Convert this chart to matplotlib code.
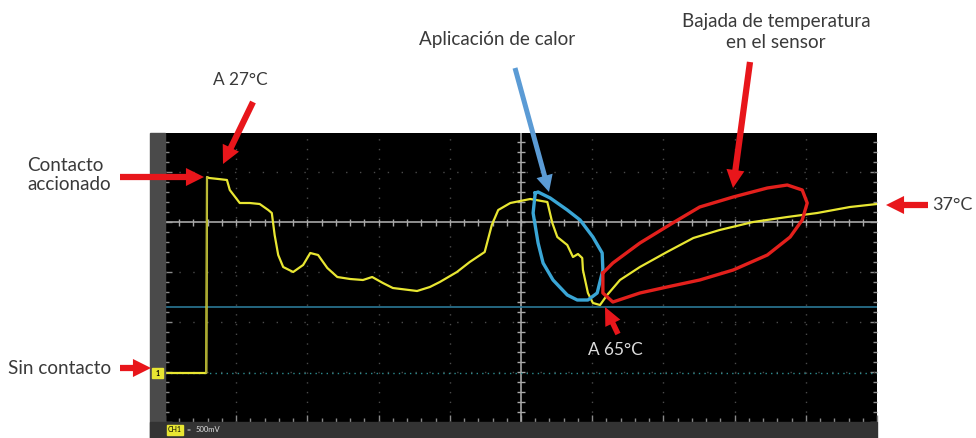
import numpy as np
import matplotlib
matplotlib.use("Agg")
import matplotlib.pyplot as plt
from matplotlib.patches import Rectangle

plt.rcParams['font.family'] = ['Lato', 'DejaVu Sans']

# CH1 trace, x in horizontal divisions (0-10), y in vertical divisions (0 = centre)
trace_t = [0.00, 0.58, 0.59, 0.62, 0.75, 0.87, 0.91, 1.05, 1.19, 1.33,
           1.45, 1.50, 1.54, 1.59, 1.66, 1.80, 1.94, 2.04, 2.15, 2.28,
           2.42, 2.60, 2.78, 2.91, 3.06, 3.20, 3.54, 3.72, 3.86, 4.10,
           4.28, 4.49, 4.59, 4.68, 4.85, 5.13, 5.37, 5.44, 5.51, 5.65,
           5.73, 5.80, 5.86, 5.87, 5.94, 6.01, 6.11, 6.21, 6.39, 6.67,
           7.05, 7.42, 7.79, 8.26, 8.74, 9.16, 9.62, 10.00]
trace_v = [-3.02, -3.02, 0.90, 0.88, 0.86, 0.84, 0.64, 0.38, 0.38, 0.36,
           0.24, 0.18, -0.26, -0.66, -0.90, -1.00, -0.86, -0.62, -0.66, -0.92,
           -1.10, -1.14, -1.16, -1.10, -1.22, -1.32, -1.38, -1.30, -1.20, -1.00,
           -0.80, -0.60, -0.06, 0.24, 0.38, 0.46, 0.40, -0.02, -0.30, -0.46,
           -0.70, -0.64, -0.72, -0.96, -1.42, -1.62, -1.66, -1.46, -1.16, -0.90,
           -0.60, -0.32, -0.16, 0.00, 0.10, 0.18, 0.30, 0.36]

ground_level = -3.02
trigger_level = -1.70

# hand drawn loops (divisions)
blue_loop_t = [5.20, 5.24, 5.41, 5.65, 5.83, 6.01, 6.14, 6.15, 6.07, 5.94,
               5.79, 5.65, 5.45, 5.31, 5.24, 5.17, 5.20]
blue_loop_v = [0.58, 0.60, 0.48, 0.24, 0.04, -0.30, -0.62, -0.96, -1.42, -1.56,
               -1.56, -1.46, -1.16, -0.82, -0.42, 0.18, 0.58]
red_loop_t = [6.15, 6.29, 6.67, 7.13, 7.51, 7.98, 8.46, 8.74, 8.95, 9.02,
              8.95, 8.78, 8.46, 7.98, 7.51, 7.05, 6.67, 6.29, 6.15, 6.15]
red_loop_v = [-1.02, -0.82, -0.42, -0.02, 0.30, 0.50, 0.68, 0.74, 0.64, 0.38,
              0.04, -0.30, -0.66, -0.96, -1.16, -1.30, -1.42, -1.60, -1.42, -1.02]

W, H = 976, 438
fig = plt.figure(figsize=(W / 100, H / 100), dpi=100)
fig.patch.set_facecolor('white')

# scope screen
ax = fig.add_axes([165 / W, 16 / H, 712 / W, 289 / H], zorder=1)
ax.set_facecolor('black')
ax.set_xlim(0, 10)
ax.set_ylim(-4, 1.78)
for s in ax.spines.values():
    s.set_visible(False)
ax.set_xticks(np.arange(0, 11, 1))
ax.set_yticks(np.arange(-4, 2, 1))
ax.set_xticks(np.arange(0, 10.01, 0.2), minor=True)
ax.set_yticks(np.arange(-4, 1.8, 0.2), minor=True)
ax.tick_params(which='both', direction='in', left=True, right=True, bottom=True,
               top=False, labelleft=False, labelbottom=False, color='#8a8a8a',
               width=1)
ax.tick_params(which='major', length=5)
ax.tick_params(which='minor', length=3)

# dotted grid
for gx in range(1, 10):
    if gx != 5:
        ax.axvline(gx, color='#4a4a4a', lw=1, ls=(0, (1, 6)))
for gy in range(-3, 2):
    if gy != 0:
        ax.axhline(gy, color='#4a4a4a', lw=1, ls=(0, (1, 9)))
# centre cross
ax.axvline(5, color='#a8a8a8', lw=1.2)
ax.axhline(0, color='#a8a8a8', lw=1.2)
ax.vlines(np.arange(0.2, 10, 0.2), -0.07, 0.07, color='#a8a8a8', lw=1)
ax.hlines(np.arange(-3.8, 1.8, 0.2), 4.95, 5.05, color='#a8a8a8', lw=1)

ax.axhline(trigger_level, color='#2b7896', lw=1.2)
ax.axhline(ground_level, color='#2c8c90', lw=1, ls=(0, (1, 3)))

ax.plot(trace_t, trace_v, color='#e8e632', lw=1.6, solid_joinstyle='round')
ax.plot(trace_t[1:3], trace_v[1:3], color='#a8a838', lw=1.0)

ax.plot(blue_loop_t, blue_loop_v, color='#3aa6d6', lw=2.4, clip_on=False)
ax.plot(red_loop_t, red_loop_v, color='#e3201c', lw=2.4, clip_on=False)

# overlay in pixel coordinates for frame pieces, arrows and labels
ov = fig.add_axes([0, 0, 1, 1], zorder=3)
ov.set_xlim(0, W)
ov.set_ylim(H, 0)
ov.axis('off')

ov.add_patch(Rectangle((150, 133), 15, 305, color='#4a4a4a'))
ov.add_patch(Rectangle((150, 422), 727, 16, color='#333333'))
ov.add_patch(Rectangle((152, 368), 11, 10, color='#e8e632'))
ov.text(157.5, 373, '1', fontsize=5, color='black', ha='center', va='center',
        fontweight='bold')
ov.add_patch(Rectangle((167, 425), 16, 10, color='#e8e632'))
ov.text(175, 430, 'CH1', fontsize=5, color='black', ha='center', va='center')
ov.text(186, 430, '=', fontsize=5, color='#cccccc', ha='left', va='center')
ov.text(196, 430, '500mV', fontsize=5.5, color='#e0e0e0', ha='left', va='center')

red = '#e8161b'
blue = '#5b9bd5'


def arrow(tail, tip, color, hw=1.3, hl=1.3, tw=0.45):
    style = 'simple,head_width=%s,head_length=%s,tail_width=%s' % (hw, hl, tw)
    ov.annotate('', xy=tip, xytext=tail,
                arrowprops=dict(arrowstyle=style, color=color, lw=0,
                                mutation_scale=10, shrinkA=0, shrinkB=0))


arrow((120, 177), (204, 177), red)
arrow((253, 102), (223, 164), red)
arrow((120, 368), (151, 368), red)
arrow((928, 205), (886, 205), red)
arrow((515, 68), (549, 192), blue, hw=1.2, hl=1.2, tw=0.36)
arrow((750, 62), (733, 188), red)
arrow((618, 334), (605, 307), red, hw=1.2, hl=1.3, tw=0.4)

tc = '#3a3a3a'
fs = 13.6
fs_small = 12.4
ov.text(240, 80, 'A 27°C', fontsize=fs_small, color=tc, ha='center', va='center')
ov.text(27, 175, 'Contacto\naccionado', fontsize=fs, color=tc, ha='left',
        va='center', linespacing=1.2)
ov.text(60, 368, 'Sin contacto', fontsize=fs, color=tc, ha='center', va='center')
ov.text(497, 40, 'Aplicación de calor', fontsize=fs, color=tc, ha='center',
        va='center')
ov.text(776, 32, 'Bajada de temperatura\nen el sensor', fontsize=fs, color=tc,
        ha='center', va='center', linespacing=1.3)
ov.text(952, 205, '37°C', fontsize=fs_small + 0.6, color=tc, ha='center',
        va='center')
ov.text(615, 350, 'A 65°C', fontsize=fs_small, color='#dcdcdc', ha='center',
        va='center')

fig.savefig('out.png', dpi=100)
